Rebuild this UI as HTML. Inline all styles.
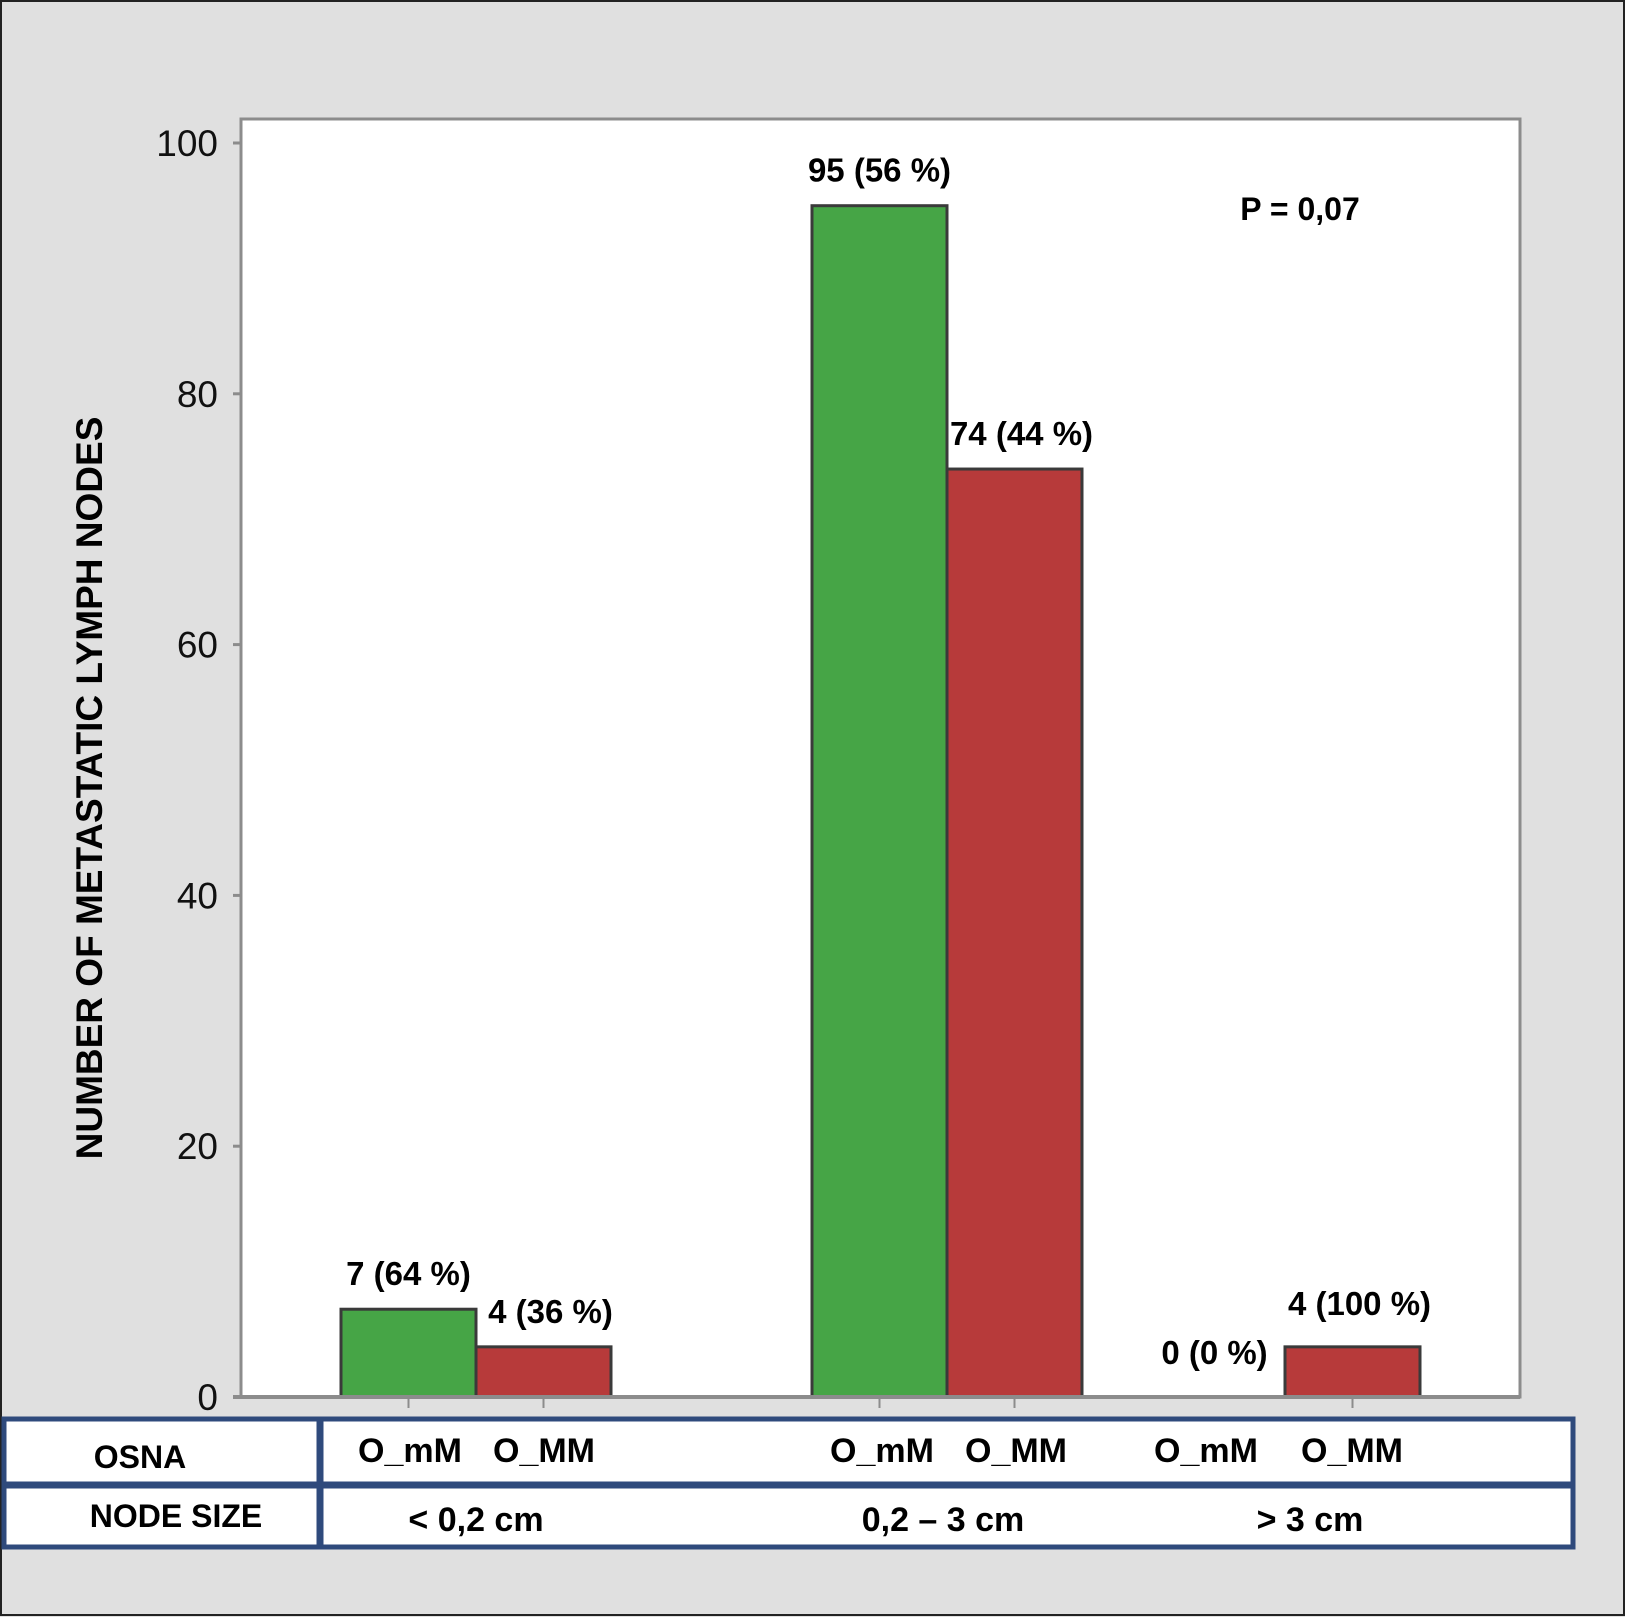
<!DOCTYPE html>
<html><head><meta charset="utf-8"><style>
html,body{margin:0;padding:0;background:#e0e0e0;}
svg{display:block;}
text{font-family:"Liberation Sans Narrow","Liberation Sans",sans-serif;}
</style></head><body>
<svg id="chart" width="1625" height="1617" xmlns="http://www.w3.org/2000/svg">
<rect x="1" y="1" width="1623" height="1614" fill="#e0e0e0" stroke="#222" stroke-width="2"/>
<rect x="241" y="119" width="1279" height="1278" fill="#fff" stroke="#8c8c8c" stroke-width="3"/>
<text x="0" y="0" transform="translate(102,788) rotate(-90)" text-anchor="middle" font-size="37" font-weight="bold" fill="#000">NUMBER OF METASTATIC LYMPH NODES</text>
<text x="1300" y="220" text-anchor="middle" font-size="32" font-weight="bold">P = 0,07</text>
<g id="ticks"></g>
<g id="bars"></g>
<g id="table">
<rect x="4" y="1419" width="1569" height="128" fill="#fff" stroke="#2f4a7c" stroke-width="5"/>
<line x1="4" y1="1485" x2="1573" y2="1485" stroke="#2f4a7c" stroke-width="7"/>
<line x1="320" y1="1419" x2="320" y2="1547" stroke="#2f4a7c" stroke-width="7"/>
<text x="140" y="1468" text-anchor="middle" font-size="32" font-weight="bold">OSNA</text>
<text x="176" y="1527" text-anchor="middle" font-size="32" font-weight="bold">NODE SIZE</text>
</g>
</svg>
<script>
const categories=["< 0,2 cm","0,2 – 3 cm","> 3 cm"];
const seriesNames=["O_mM","O_MM"];
const greenValues=[7,95,0];
const redValues=[4,74,4];
const greenLabels=["7 (64 %)","95 (56 %)","0 (0 %)"];
const redLabels=["4 (36 %)","74 (44 %)","4 (100 %)"];
const yTicks=[0,20,40,60,80,100];
const groupCenters=[476,947,1285];
const NS="http://www.w3.org/2000/svg";
const y0=1397,y100=143,barW=135;
const osnaX=[[410,544],[882,1016],[1206,1352]];
const sizeX=[476,943,1310];
function y(v){return y0-(y0-y100)*v/100;}
function mk(tag,attrs,parent,txt){const e=document.createElementNS(NS,tag);for(const k in attrs)e.setAttribute(k,attrs[k]);if(txt!==undefined)e.textContent=txt;parent.appendChild(e);return e;}
const tg=document.getElementById('ticks');
yTicks.forEach(t=>{
  const l=mk('line',{x1:233,x2:241,y1:y(t),y2:y(t),stroke:'#8c8c8c','stroke-width':3},tg);
  
  
  const tx=mk('text',{x:218,y:y(t)+13,'text-anchor':'end','font-size':37,fill:'#111'},tg,String(t));
  
  
});
const bg=document.getElementById('bars');
const tb=document.getElementById('table');
categories.forEach((c,i)=>{
  const cx=groupCenters[i];
  const gx=cx-barW,rx=cx;
  if(greenValues[i]>0){
    const b=mk('rect',{x:gx,y:y(greenValues[i]),width:barW,height:y0-y(greenValues[i]),fill:'#46a546',stroke:'#3a3a3a','stroke-width':3},bg);
    
    
  }
  const r=mk('rect',{x:rx,y:y(redValues[i]),width:barW,height:y0-y(redValues[i]),fill:'#b73a3a',stroke:'#3a3a3a','stroke-width':3},bg);
  
  
  [gx+barW/2,rx+barW/2].forEach((tx,k)=>{
    if(k===0&&greenValues[i]===0)return;
    const t=mk('line',{x1:tx,x2:tx,y1:y0,y2:y0+11,stroke:'#8c8c8c','stroke-width':2},bg);
    
    
  });
  const gl=mk('text',{x:gx+barW/2,y:(greenValues[i]>0?y(greenValues[i])-24:y0-33),'text-anchor':'middle','font-size':33,'font-weight':'bold'},bg,greenLabels[i]);
  if(greenValues[i]===0)gl.setAttribute('x',gx+barW/2-3);
  
  
  const rl=mk('text',{x:rx+barW/2+7,y:y(redValues[i])-24,'text-anchor':'middle','font-size':33,'font-weight':'bold'},bg,redLabels[i]);
  if(i===2)rl.setAttribute('y',y(redValues[i])-32);
  
  
  const s1=mk('text',{x:osnaX[i][0],y:1462,'text-anchor':'middle','font-size':34,'font-weight':'bold'},tb,seriesNames[0]);
  
  
  const s2=mk('text',{x:osnaX[i][1],y:1462,'text-anchor':'middle','font-size':34,'font-weight':'bold'},tb,seriesNames[1]);
  
  
  const cl=mk('text',{x:sizeX[i],y:1531,'text-anchor':'middle','font-size':34,'font-weight':'bold'},tb,c);
  
  
});
const ax=mk('line',{x1:233,x2:1520,y1:y0,y2:y0,stroke:'#8c8c8c','stroke-width':4},bg);


</script>
</body></html>
